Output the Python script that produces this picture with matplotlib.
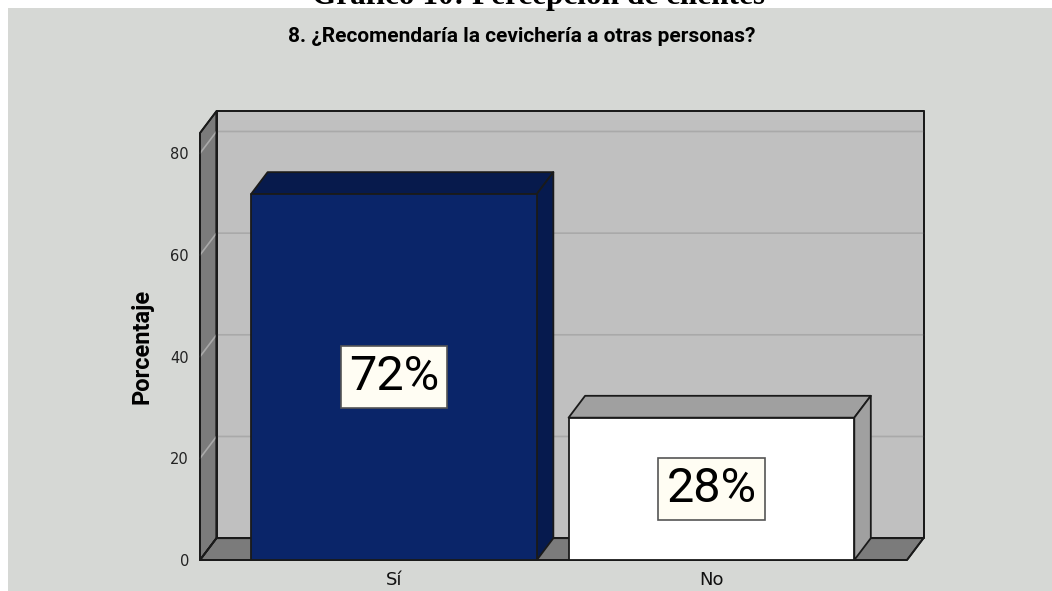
import numpy as np
import matplotlib
matplotlib.use("Agg")
import matplotlib.pyplot as plt
from matplotlib.patches import Polygon, Rectangle

# data
categories = ["Sí", "No"]
percentages = [72, 28]
labels = ["72%", "28%"]
yticks = [0, 20, 40, 60, 80]
header = "Gráfico 10: Percepción de clientes"
title = "8. ¿Recomendaría la cevichería a otras personas?"
ylabel = "Porcentaje"

# style
BG = "#d6d8d5"; WALL = "#c0c0c0"; SIDEWALL = "#7b7b7b"; GRID = "#a9a9a9"
FRONT = ["#0a2569", "#ffffff"]; TOP = ["#071a4c", "#a0a0a0"]; SIDE = ["#061a4e", "#a0a0a0"]
EDGE = "#1a1a1a"
BAR_W = 0.9; DX = 0.052; DY = 4.3      # bar width, 3d depth offset (data units)
XMIN, XMAX, YMAX = -0.611, 1.616, 84
NARROW = dict(family="Roboto", weight="bold")

W, H = 1052, 591
fig = plt.figure(figsize=(W/100, H/100), dpi=100, facecolor="white")
fig.patches.append(Rectangle((8/W, 0), 1, 1 - 8/H, transform=fig.transFigure,
                             facecolor=BG, edgecolor="none", zorder=-1))
fig.text(539/W, 1 - 4/H, header, ha="center", va="baseline", fontsize=22.5,
         family="Liberation Serif", weight="bold", color="black")
fig.text(522/W, 1 - 37/H, title, ha="center", va="center", fontsize=15, **NARROW)

ax = fig.add_axes([200/W, 31/H, 707/W, 427/H])
ax.set_xlim(XMIN, XMAX); ax.set_ylim(0, YMAX)
ax.patch.set_visible(False)
for s in ax.spines.values(): s.set_visible(False)

def poly(pts, fc, z, lw=1.3):
    ax.add_patch(Polygon(pts, closed=True, facecolor=fc, edgecolor=EDGE,
                         linewidth=lw, joinstyle="round", clip_on=False, zorder=z))

# walls and floor
poly([(XMIN+DX, DY), (XMAX+DX, DY), (XMAX+DX, YMAX+DY), (XMIN+DX, YMAX+DY)], WALL, 1)
poly([(XMIN, 0), (XMIN, YMAX), (XMIN+DX, YMAX+DY), (XMIN+DX, DY)], SIDEWALL, 1)
poly([(XMIN, 0), (XMAX, 0), (XMAX+DX, DY), (XMIN+DX, DY)], SIDEWALL, 1)
for t in yticks[1:]:
    ax.plot([XMIN, XMIN+DX, XMAX+DX], [t, t+DY, t+DY], color=GRID, lw=1.2,
            clip_on=False, zorder=2)
poly([(XMIN+DX, DY), (XMAX+DX, DY), (XMAX+DX, YMAX+DY), (XMIN+DX, YMAX+DY)], "none", 3)
poly([(XMIN, 0), (XMIN, YMAX), (XMIN+DX, YMAX+DY), (XMIN+DX, DY)], "none", 3)
poly([(XMIN, 0), (XMAX, 0), (XMAX+DX, DY), (XMIN+DX, DY)], "none", 3)

# 3d bars
for i, v in enumerate(percentages):
    l, r = i - BAR_W/2, i + BAR_W/2
    poly([(l, v), (r, v), (r+DX, v+DY), (l+DX, v+DY)], TOP[i], 4)
    poly([(r, 0), (r+DX, DY), (r+DX, v+DY), (r, v)], SIDE[i], 4)
    poly([(l, 0), (r, 0), (r, v), (l, v)], FRONT[i], 5)
    ax.text(i, v/2, labels[i], ha="center", va="center", fontsize=35,
            family="Roboto", color="black", zorder=6,
            bbox=dict(boxstyle="square,pad=0.17", facecolor="#fffdf3",
                      edgecolor="#555555", linewidth=1.2))

ax.set_yticks(yticks)
ax.set_yticklabels([str(t) for t in yticks], fontsize=10.5, color="#222222")
ax.set_xticks(range(len(categories)))
ax.set_xticklabels(categories, fontsize=13, color="#111111")
ax.tick_params(axis="y", length=0, pad=8)
ax.tick_params(axis="x", length=0, pad=8)
ax.set_ylabel(ylabel, fontsize=17, labelpad=12, **NARROW)

fig.savefig("out.png", dpi=100, facecolor=fig.get_facecolor())
